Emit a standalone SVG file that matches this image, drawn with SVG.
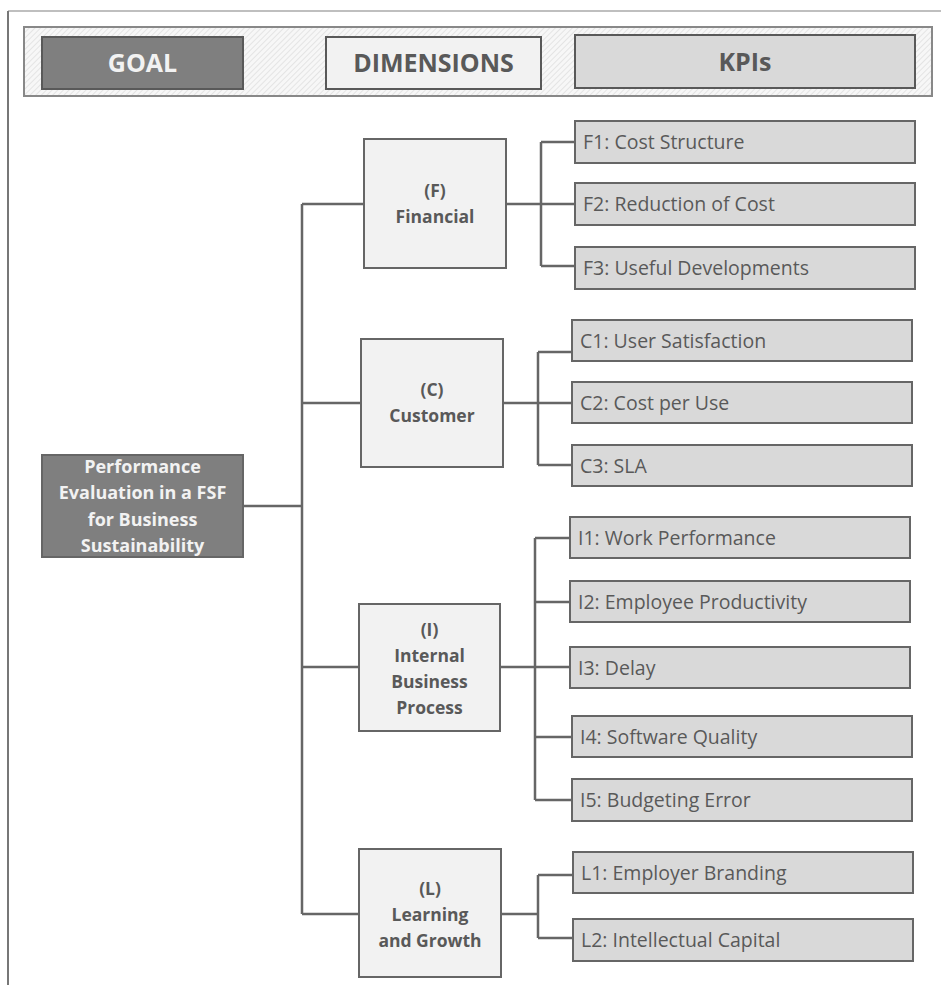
<svg xmlns="http://www.w3.org/2000/svg" width="941" height="985" viewBox="0 0 941 985">
<defs>
<pattern id="hatch" patternUnits="userSpaceOnUse" width="4" height="4" patternTransform="rotate(45)">
<rect width="4" height="4" fill="#f7f7f7"/>
<line x1="0" y1="0" x2="0" y2="4" stroke="#d8d8d8" stroke-width="1.2"/>
</pattern>
</defs>
<style>
text{font-family:"Open Sans","Noto Sans","Liberation Sans",sans-serif;}
.hdr{font-size:25px;font-weight:bold;text-anchor:middle;}
.dim rect{fill:#f2f2f2;stroke:#666;stroke-width:2;}
.dim text{font-size:17.5px;font-weight:bold;fill:#595959;text-anchor:middle;}
.kpi rect{fill:#d9d9d9;stroke:#666;stroke-width:2;}
.kpi text{font-size:19.5px;fill:#595959;}
.goal rect{fill:#7f7f7f;stroke:#666;stroke-width:2;}
.goal text{font-size:18px;font-weight:bold;fill:#f2f2f2;text-anchor:middle;}
#connectors path{fill:none;stroke:#666;stroke-width:2.5;}
</style>
<rect width="941" height="985" fill="#fff"/>
<line x1="8" y1="11" x2="941" y2="11" stroke="#aaa" stroke-width="1.5"/>
<line x1="8" y1="11" x2="8" y2="985" stroke="#777" stroke-width="2"/>
<g id="header">
<rect x="24" y="27" width="908" height="69" fill="url(#hatch)" stroke="#888" stroke-width="2"/>
<rect x="42" y="37" width="201" height="52" fill="#7f7f7f" stroke="#595959" stroke-width="2"/>
<text class="hdr" x="142.5" y="72" fill="#f2f2f2">GOAL</text>
<rect x="326" y="37" width="215" height="52" fill="#f2f2f2" stroke="#595959" stroke-width="2"/>
<text class="hdr" x="433.5" y="72" fill="#595959">DIMENSIONS</text>
<rect x="575" y="35" width="340" height="53" fill="#d9d9d9" stroke="#595959" stroke-width="2"/>
<text class="hdr" x="745" y="71" fill="#595959">KPIs</text>
</g>
<g id="connectors">
<path d="M243 506H302M302 204V914M302 204H364M302 403H361M302 667H359M302 914H359"/>
<path d="M506 204H575M541 142V266M541 142H575M541 266H575"/>
<path d="M503 403H572M538 352V465M538 352H572M538 465H572"/>
<path d="M500 667H570M535 538V800M535 538H570M535 602H570M535 737H572M535 800H572"/>
<path d="M501 914H538M538 875V938M538 875H573M538 938H573"/>
</g>
<g id="goal" class="goal">
<rect x="42" y="455" width="201" height="102"/>
<text x="142.5" y="473">Performance</text>
<text x="142.5" y="499">Evaluation in a FSF</text>
<text x="142.5" y="526">for Business</text>
<text x="142.5" y="552">Sustainability</text>
</g>
<g id="dimF" class="dim">
<rect x="364" y="139" width="142" height="129"/>
<text x="435" y="197">(F)</text>
<text x="435" y="223">Financial</text>
</g>
<g id="dimC" class="dim">
<rect x="361" y="339" width="142" height="128"/>
<text x="432" y="396">(C)</text>
<text x="432" y="422">Customer</text>
</g>
<g id="dimI" class="dim">
<rect x="359" y="604" width="141" height="127"/>
<text x="429.5" y="636">(I)</text>
<text x="429.5" y="662">Internal</text>
<text x="429.5" y="688">Business</text>
<text x="429.5" y="714">Process</text>
</g>
<g id="dimL" class="dim">
<rect x="359" y="849" width="142" height="128"/>
<text x="430" y="895">(L)</text>
<text x="430" y="921">Learning</text>
<text x="430" y="947">and Growth</text>
</g>
<g id="F1" class="kpi"><rect x="575" y="121" width="340" height="42"/><text x="583" y="149">F1: Cost Structure</text></g>
<g id="F2" class="kpi"><rect x="575" y="183" width="340" height="42"/><text x="583" y="211">F2: Reduction of Cost</text></g>
<g id="F3" class="kpi"><rect x="575" y="247" width="340" height="42"/><text x="583" y="275">F3: Useful Developments</text></g>
<g id="C1" class="kpi"><rect x="572" y="320" width="340" height="41"/><text x="580" y="348">C1: User Satisfaction</text></g>
<g id="C2" class="kpi"><rect x="572" y="382" width="340" height="41"/><text x="580" y="410">C2: Cost per Use</text></g>
<g id="C3" class="kpi"><rect x="572" y="445" width="340" height="41"/><text x="580" y="473">C3: SLA</text></g>
<g id="I1" class="kpi"><rect x="570" y="517" width="340" height="41"/><text x="578" y="545">I1: Work Performance</text></g>
<g id="I2" class="kpi"><rect x="570" y="581" width="340" height="41"/><text x="578" y="609">I2: Employee Productivity</text></g>
<g id="I3" class="kpi"><rect x="570" y="647" width="340" height="41"/><text x="578" y="675">I3: Delay</text></g>
<g id="I4" class="kpi"><rect x="572" y="716" width="340" height="41"/><text x="580" y="744">I4: Software Quality</text></g>
<g id="I5" class="kpi"><rect x="572" y="779" width="340" height="42"/><text x="580" y="807">I5: Budgeting Error</text></g>
<g id="L1" class="kpi"><rect x="573" y="852" width="340" height="41"/><text x="581" y="880">L1: Employer Branding</text></g>
<g id="L2" class="kpi"><rect x="573" y="919" width="340" height="42"/><text x="581" y="947">L2: Intellectual Capital</text></g>
</svg>
